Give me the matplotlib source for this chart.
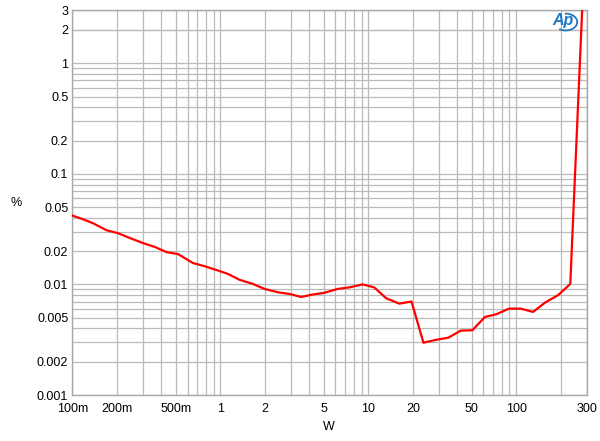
import matplotlib
matplotlib.use("Agg")
import matplotlib.pyplot as plt
from matplotlib.patches import Arc
from matplotlib.ticker import FixedLocator, NullFormatter, NullLocator

plt.rcParams['font.family'] = ['Liberation Sans', 'DejaVu Sans']

# THD+N (%) vs output power (W)
power = [0.1, 0.118, 0.138, 0.17, 0.204, 0.244, 0.301, 0.361, 0.432, 0.518,
         0.653, 0.784, 0.94, 1.125, 1.35, 1.66, 1.99, 2.44, 2.93, 3.52,
         4.21, 5.05, 6.21, 7.45, 9.16, 10.97, 13.2, 16.2, 19.6, 23.6,
         28.6, 34.8, 42.2, 50.5, 61.5, 73.3, 89.3, 107, 130, 158,
         192, 232, 279]
thdn = [0.0419, 0.0388, 0.0357, 0.0309, 0.029, 0.0263, 0.0236, 0.0218, 0.0196, 0.0188,
        0.0156, 0.0146, 0.0135, 0.01245, 0.011, 0.0101, 0.0091, 0.0085, 0.0082, 0.0077,
        0.0081, 0.0084, 0.0091, 0.0094, 0.01, 0.0094, 0.0075, 0.0067, 0.007, 0.00297,
        0.00315, 0.0033, 0.00382, 0.00385, 0.00508, 0.00537, 0.00604, 0.00604, 0.00564, 0.0069,
        0.008, 0.0101, 3.0]

x_ticks = [0.1, 0.2, 0.5, 1, 2, 5, 10, 20, 50, 100, 300]
x_labels = ["100m", "200m", "500m", "1", "2", "5", "10", "20", "50", "100", "300"]
y_ticks = [0.001, 0.002, 0.005, 0.01, 0.02, 0.05, 0.1, 0.2, 0.5, 1, 2, 3]
y_labels = ["0.001", "0.002", "0.005", "0.01", "0.02", "0.05", "0.1", "0.2", "0.5", "1", "2", "3"]

fig = plt.figure(figsize=(6, 4.41), dpi=100)
ax = fig.add_axes([0.1207, 0.1043, 0.8573, 0.872])

ax.set_xscale('log')
ax.set_yscale('log')
ax.set_xlim(0.1, 300)
ax.set_ylim(0.001, 3)

# grid lines at every 1..9 multiple of each decade
xgrid = [m * 10.0 ** e for e in range(-1, 3) for m in range(1, 10)] + [300]
ygrid = [m * 10.0 ** e for e in range(-3, 1) for m in range(1, 10)] + [2, 3]
for xv in xgrid:
    ax.axvline(xv, color='#bababa', lw=0.9, zorder=1)
for yv in ygrid:
    ax.axhline(yv, color='#bababa', lw=0.9, zorder=1)

ax.plot(power, thdn, color='#ff0000', lw=1.6, zorder=3, clip_on=True)

ax.xaxis.set_major_locator(FixedLocator(x_ticks))
ax.xaxis.set_minor_locator(NullLocator())
ax.xaxis.set_minor_formatter(NullFormatter())
ax.set_xticklabels(x_labels)
ax.yaxis.set_major_locator(FixedLocator(y_ticks))
ax.yaxis.set_minor_locator(NullLocator())
ax.yaxis.set_minor_formatter(NullFormatter())
ax.set_yticklabels(y_labels)
ax.tick_params(length=0, labelsize=9, pad=3)
ax.tick_params(axis='x', pad=5.5)

for sp in ax.spines.values():
    sp.set_color('#a8a8a8')
    sp.set_linewidth(1.0)

ax.set_xlabel("W", fontsize=9)
ax.set_ylabel("%", fontsize=9, rotation=0, labelpad=0, va='center', ha='center')
ax.yaxis.set_label_coords(-0.109, 0.5)
ax.xaxis.set_label_coords(0.498, -0.068)

# Audio Precision logo
fig.text(0.939, 0.953, "Ap", color='#1f78c4', fontsize=11.5, style='italic',
         fontweight='bold', ha='center', va='center')
fig.add_artist(Arc((0.943, 0.950), 0.038, 0.038, theta1=235, theta2=95,
                   transform=fig.transFigure, color='#1f78c4', lw=1.3))

fig.savefig("out.png", dpi=100)
